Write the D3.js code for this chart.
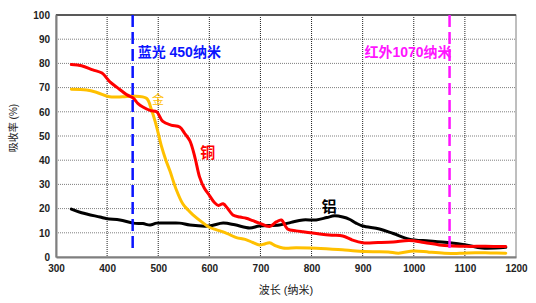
<!DOCTYPE html>
<html>
<head>
<meta charset="utf-8">
<script src="https://cdn.jsdelivr.net/npm/d3@7/dist/d3.min.js"></script>
<style>
body { margin: 0; background: #fff; }
text { font-family: "Liberation Sans", Arial, "Noto Sans CJK SC", sans-serif; }
</style>
</head>
<body>
<div id="node"></div>
<script>
// wavelength (nm) / absorption (%)
const copper = [[330,79.5],[350,79],[372,77.3],[390,76],[405,72.5],[420,70],[439,67],[451,65.7],[460,63.5],[470,62],[485,60.5],[497,60],[509,56],[525,54.5],[542,53.7],[552,51],[562,48],[572,41],[581,33],[590,28.5],[600,25.5],[610,22.5],[618,21.3],[627,22],[636,20],[646,17.4],[660,16.5],[672,16],[685,15],[698,14],[718,12.6],[731,14.5],[741,15.3],[753,11.6],[770,10.8],[783,10.4],[816,9.5],[840,9],[861,8.7],[880,7],[900,5.9],[930,6],[960,6.2],[991,6.8],[1020,6],[1050,5],[1070,4.6],[1100,4.4],[1140,4.4],[1180,4.3]];
const gold = [[330,69.3],[360,69],[380,68],[405,66.2],[430,66.2],[451,66.5],[477,65.6],[487,60.7],[497,53.7],[506,46],[515,40],[523,35.5],[535,28],[548,22],[558,19.5],[568,17.4],[585,14.5],[599,12.4],[613,11.3],[627,10.4],[640,9.2],[653,8],[670,7.3],[685,6],[698,5],[708,5.4],[718,5.9],[730,4.6],[744,3.7],[770,3.8],[796,3.7],[835,3.3],[860,3],[887,2.5],[920,2.2],[950,2.1],[970,1.6],[1000,2.5],[1030,2],[1060,1.6],[1090,1.5],[1120,1.8],[1150,1.7],[1180,1.6]];
const aluminum = [[330,19.8],[350,18.3],[386,16.5],[400,15.8],[425,15.3],[451,14],[470,13.8],[484,13.2],[497,14],[520,14],[542,14],[562,13.2],[599,12.8],[627,14],[650,13.3],[679,12],[698,12.8],[737,13.2],[760,14.3],[783,15.3],[809,15.3],[830,16.3],[845,17],[861,16.5],[875,15.5],[887,14],[900,12.8],[933,11.6],[960,9.7],[991,7.4],[1030,6.6],[1070,5.9],[1102,5],[1134,3.7],[1180,4]];

const xTicks = [300,400,500,600,700,800,900,1000,1100,1200];
const yTicks = [0,10,20,30,40,50,60,70,80,90,100];
const markers = [{nm: 450, label: "蓝光 450纳米", color: "#0a14ff"}, {nm: 1070, label: "红外1070纳米", color: "#ff14ff"}];
const seriesLabels = [{name: "金", nm: 488, v: 63.3, color: "#ffc000", size: 12, weight: "normal"},
                      {name: "铜", nm: 582, v: 41, color: "#ff0000", size: 15, weight: "bold"},
                      {name: "铝", nm: 820, v: 18.8, color: "#000", size: 15, weight: "bold"}];

const margin = {top: 15, right: 20, bottom: 46, left: 56};
const width = 536 - margin.left - margin.right;
const height = 303 - margin.top - margin.bottom;

const svg = d3.select("#node").append("svg")
    .attr("width", 536).attr("height", 303)
  .append("g")
    .attr("transform", "translate(" + margin.left + "," + margin.top + ")");

const x = d3.scaleLinear().domain([300, 1200]).range([0, width]);
const y = d3.scaleLinear().domain([0, 100]).range([height, 0]);

// grid
svg.append("g").selectAll("line").data(yTicks.slice(1, -1)).enter().append("line")
    .attr("x1", 0).attr("x2", width)
    .attr("y1", d => y(d)).attr("y2", d => y(d))
    .attr("stroke", "#7f7f7f").attr("stroke-width", 1).attr("stroke-dasharray", "1,1");
svg.append("g").selectAll("line").data(xTicks.slice(1, -1)).enter().append("line")
    .attr("y1", 0).attr("y2", height)
    .attr("x1", d => x(d)).attr("x2", d => x(d))
    .attr("stroke", "#222").attr("stroke-width", 1).attr("stroke-dasharray", "1,1");

// frame
svg.append("rect").attr("width", width).attr("height", height)
    .attr("fill", "none").attr("stroke", "#7f7f7f").attr("stroke-width", 1);
svg.append("line").attr("x1", 0).attr("x2", width).attr("y1", 0).attr("y2", 0)
    .attr("stroke", "#595959").attr("stroke-width", 2);

// axes
const xAxis = svg.append("g").attr("transform", "translate(0," + height + ")")
    .call(d3.axisBottom(x).tickValues(xTicks).tickFormat(d3.format("d")).tickSize(0).tickPadding(8));
const yAxis = svg.append("g")
    .call(d3.axisLeft(y).tickValues(yTicks).tickSize(0).tickPadding(6));
[xAxis, yAxis].forEach(a => {
  a.select(".domain").attr("stroke", "#7f7f7f").attr("stroke-width", 2);
  a.selectAll("text").attr("font-size", 10).attr("font-weight", "bold").attr("fill", "#222");
});

svg.append("text")
    .attr("x", width / 2).attr("y", height + 37)
    .attr("text-anchor", "middle").attr("font-size", 11).attr("fill", "#222")
    .text("波长 (纳米)");
svg.append("text")
    .attr("transform", "rotate(-90)")
    .attr("x", -height / 2 + 8).attr("y", -39)
    .attr("text-anchor", "middle").attr("font-size", 10).attr("fill", "#222")
    .text("吸收率 (%)");

// curves
const line = d3.line().x(d => x(d[0])).y(d => y(d[1])).curve(d3.curveCatmullRom);
[[aluminum, "#000"], [gold, "#ffc000"], [copper, "#ff0000"]].forEach(s => {
  svg.append("path").datum(s[0])
      .attr("d", line)
      .attr("fill", "none").attr("stroke", s[1]).attr("stroke-width", 3)
      .attr("stroke-linejoin", "round").attr("stroke-linecap", "round");
});

// laser wavelength markers
markers.forEach(m => {
  svg.append("line")
      .attr("x1", x(m.nm)).attr("x2", x(m.nm))
      .attr("y1", 0).attr("y2", y(3.3))
      .attr("stroke", m.color).attr("stroke-width", 2.5).attr("stroke-dasharray", "12,5");
});
svg.append("text").attr("x", x(450) + 5).attr("y", y(82.5))
    .attr("font-size", 14).attr("font-weight", "bold").attr("fill", markers[0].color)
    .text(markers[0].label);
svg.append("text").attr("x", x(1070) + 2).attr("y", y(82.5))
    .attr("text-anchor", "end")
    .attr("font-size", 14).attr("font-weight", "bold").attr("fill", markers[1].color)
    .text(markers[1].label);

// series labels
seriesLabels.forEach(l => {
  svg.append("text").attr("x", x(l.nm)).attr("y", y(l.v))
      .attr("font-size", l.size).attr("font-weight", l.weight).attr("fill", l.color)
      .text(l.name);
});
</script>
</body>
</html>
